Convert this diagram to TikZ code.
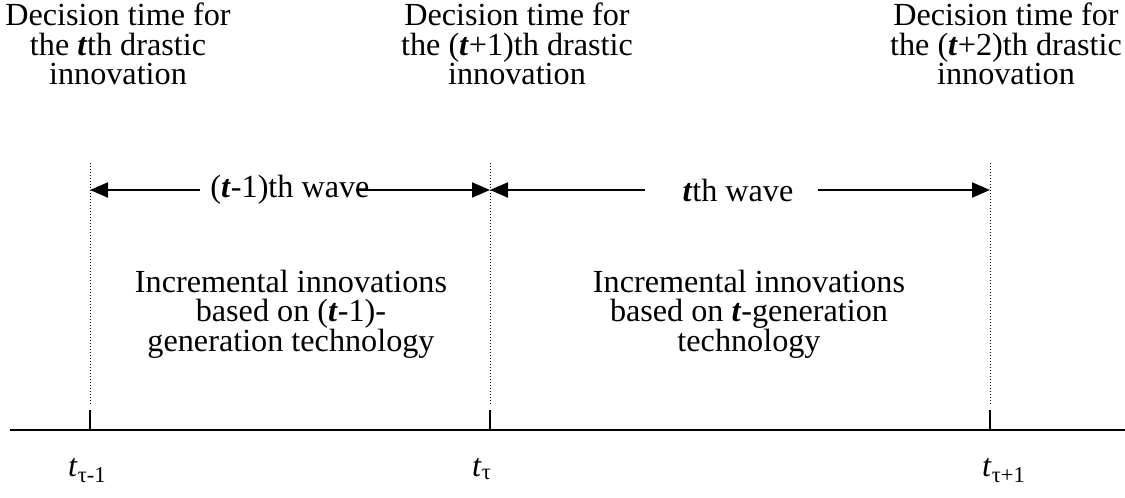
\documentclass[tikz,border=0pt]{standalone}
\usepackage{fontspec}
\setmainfont{Liberation Serif}
\usetikzlibrary{arrows.meta}
\newcommand\tbi{\textbf{\textit{t}}}
\begin{document}
\begin{tikzpicture}[x=1pt,y=-1pt,
  lbl/.style={align=center,inner sep=0pt,font=\fontsize{32.2}{29.5}\selectfont},
  tlbl/.style={inner sep=0pt,anchor=base west,font=\fontsize{32.2}{29.5}\selectfont},
  arr/.style={line width=2pt,-{Triangle[length=18pt,width=15pt]}},
  plain/.style={line width=2pt},
  guide/.style={line width=1pt,dash pattern=on 1pt off 2pt}]
\useasboundingbox (0,0) rectangle (1125,498);
% decision texts
\node[lbl] (d1) at (118,44) {Decision time for\\ the \tbi th drastic\\ innovation};
\node[lbl] (d2) at (517,44) {Decision time for\\ the (\tbi+1)th drastic\\ innovation};
\node[lbl] (d3) at (1006,44) {Decision time for\\ the (\tbi+2)th drastic\\ innovation};
% guide lines
\coordinate (g1t) at (90,163); \coordinate (g1b) at (90,405);
\coordinate (g2t) at (490,163); \coordinate (g2b) at (490,405);
\coordinate (g3t) at (990,163); \coordinate (g3b) at (990,405);
\draw[guide] (g1t) -- (g1b);
\draw[guide] (g2t) -- (g2b);
\draw[guide] (g3t) -- (g3b);
% waves
\node[lbl] (w1) at (290,190) {(\tbi-1)th wave};
\node[lbl] (w2) at (738,190) {\tbi th wave};
\coordinate (a1l) at (90,190); \coordinate (a1r) at (490,190);
\coordinate (a2l) at (490,190); \coordinate (a2r) at (990,190);
\coordinate (w1ls) at (200,190); \coordinate (w1rs) at (356,190);
\coordinate (w2ls) at (645,190); \coordinate (w2rs) at (818,190);
\draw[arr] (w1ls) -- (a1l);
\draw[arr] (w1rs) -- (a1r);
\draw[arr] (w2ls) -- (a2l);
\draw[arr] (w2rs) -- (a2r);
% incremental texts
\node[lbl] (i1) at (291,314) {Incremental innovations\\ based on (\tbi-1)-\\ generation technology};
\node[lbl] (i2) at (749,314) {Incremental innovations\\ based on \tbi-generation\\ technology};
% axis
\coordinate (ax0) at (10,430); \coordinate (ax1) at (1125,430);
\draw[plain] (ax0) -- (ax1);
\coordinate (k1) at (90,410); \coordinate (k1b) at (90,430);
\coordinate (k2) at (490,410); \coordinate (k2b) at (490,430);
\coordinate (k3) at (990,410); \coordinate (k3b) at (990,430);
\draw[plain] (k1) -- (k1b);
\draw[plain] (k2) -- (k2b);
\draw[plain] (k3) -- (k3b);
% time labels
\node[tlbl] (t1) at (68,476) {\textit{t}\textsubscript{τ-1}};
\node[tlbl] (t2) at (472,476) {\textit{t}\textsubscript{τ}};
\node[tlbl] (t3) at (982,476) {\textit{t}\textsubscript{τ+1}};
\end{tikzpicture}
\end{document}
